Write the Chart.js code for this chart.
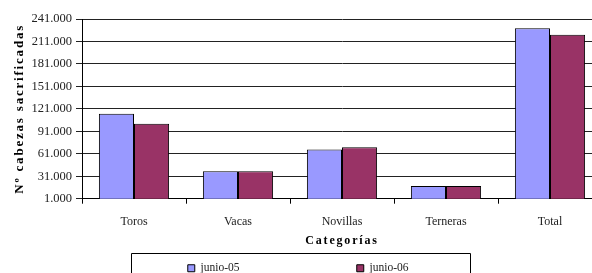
<!DOCTYPE html>
<html>
<head>
<meta charset="utf-8">
<script src="https://cdn.jsdelivr.net/npm/chart.js@4.4.1/dist/chart.umd.min.js"></script>
<style>
  html, body { margin: 0; padding: 0; background: #fff; overflow: hidden; }
  #wrap { width: 602px; height: 284px; position: relative; }
</style>
</head>
<body>
<div id="wrap"><canvas id="c"></canvas></div>
<script>
const categories = ["Toros", "Vacas", "Novillas", "Terneras", "Total"];
const seriesNames = ["junio-05", "junio-06"];
const junio05 = [114500, 37500, 66700, 18000, 228500];
const junio06 = [101000, 37500, 69800, 18000, 220000];
const yMin = 1000, yMax = 241000, yStep = 30000;
const yTitle = "Nº cabezas sacrificadas";
const xTitle = "Categorías";

const serif = "'Liberation Serif', 'Times New Roman', serif";
const fmt = v => Math.round(v).toString().replace(/\B(?=(\d{3})+(?!\d))/g, ".");

const legendBox = {
  id: 'legendBox',
  afterDraw(chart) {
    const lg = chart.legend;
    if (!lg || !lg.legendHitBoxes || lg.legendHitBoxes.length < 2) return;
    const h0 = lg.legendHitBoxes[0], h1 = lg.legendHitBoxes[1];
    const ctx = chart.ctx;
    ctx.save();
    ctx.strokeStyle = '#000';
    ctx.lineWidth = 1;
    const l = Math.round(h0.left - 57) + 0.5;
    const r = Math.round(h1.left + 113) + 0.5;
    const t = Math.round(h0.top - 10) + 0.5;
    ctx.beginPath();
    ctx.moveTo(l, chart.height + 5);
    ctx.lineTo(l, t);
    ctx.lineTo(r, t);
    ctx.lineTo(r, chart.height + 5);
    ctx.stroke();
    ctx.restore();
  }
};

function spaceTitle(s, sp) {
  if (s._wrapped) return;
  const orig = s.drawTitle.bind(s);
  s.drawTitle = function(...a) {
    const ctx = this.ctx;
    ctx.save();
    ctx.letterSpacing = sp;
    orig(...a);
    ctx.restore();
  };
  s._wrapped = true;
}
const spacedTitle = {
  id: 'spacedTitle',
  afterLayout(chart) {
    spaceTitle(chart.scales.x, '1.8px');
    spaceTitle(chart.scales.y, '1.8px');
  }
};

const nb = n => "\u00a0".repeat(n);

new Chart(document.getElementById('c'), {
  type: 'bar',
  data: {
    labels: categories,
    datasets: [
      { label: seriesNames[0], data: junio05, backgroundColor: '#9999FF', borderColor: '#000', borderWidth: 1 },
      { label: seriesNames[1], data: junio06, backgroundColor: '#993366', borderColor: '#000', borderWidth: 1 }
    ]
  },
  options: {
    responsive: true,
    maintainAspectRatio: false,
    animation: false,
    events: [],
    layout: { padding: { top: 19, left: 0, right: 0, bottom: 0 } },
    datasets: { bar: { categoryPercentage: 0.675, barPercentage: 1.0 } },
    plugins: {
      tooltip: { enabled: false },
      legend: {
        position: 'bottom',
        labels: {
          boxWidth: 7, boxHeight: 7, padding: 8,
          color: '#222',
          font: { family: serif, size: 11.5 },
          generateLabels(chart) {
            const items = Chart.defaults.plugins.legend.labels.generateLabels(chart);
            items[0].text = items[0].text + nb(38);
            items[1].text = items[1].text + nb(2);
            items.forEach(it => { it.lineWidth = 1; it.strokeStyle = '#000'; });
            return items;
          }
        }
      }
    },
    scales: {
      x: {
        offset: true,
        afterFit(s) { s.height -= 12; },
        grid: { display: true, offset: true, drawOnChartArea: false, drawTicks: true, tickLength: 5, color: '#000' },
        border: { display: true, color: '#000' },
        ticks: { color: '#222', font: { family: serif, size: 12 }, padding: 11, maxRotation: 0 },
        title: { display: true, text: xTitle, color: '#000', font: { family: serif, size: 12, weight: 'bold' }, padding: { top: 6, bottom: 6 } }
      },
      y: {
        min: yMin, max: yMax,
        afterFit(s) { s.width = 82; },
        afterBuildTicks(s) {
          const t = [];
          for (let v = yMin; v <= yMax; v += yStep) t.push({ value: v });
          s.ticks = t;
        },
        grid: { color: '#222', tickLength: 6, drawTicks: true },
        border: { display: true, color: '#000' },
        ticks: { color: '#222', font: { family: serif, size: 12.5 }, padding: 4, callback: v => fmt(v) },
        title: { display: true, text: yTitle, color: '#000', font: { family: serif, size: 13, weight: 'bold' }, padding: { top: 12, bottom: 0 } }
      }
    }
  },
  plugins: [legendBox, spacedTitle]
});
</script>
</body>
</html>
